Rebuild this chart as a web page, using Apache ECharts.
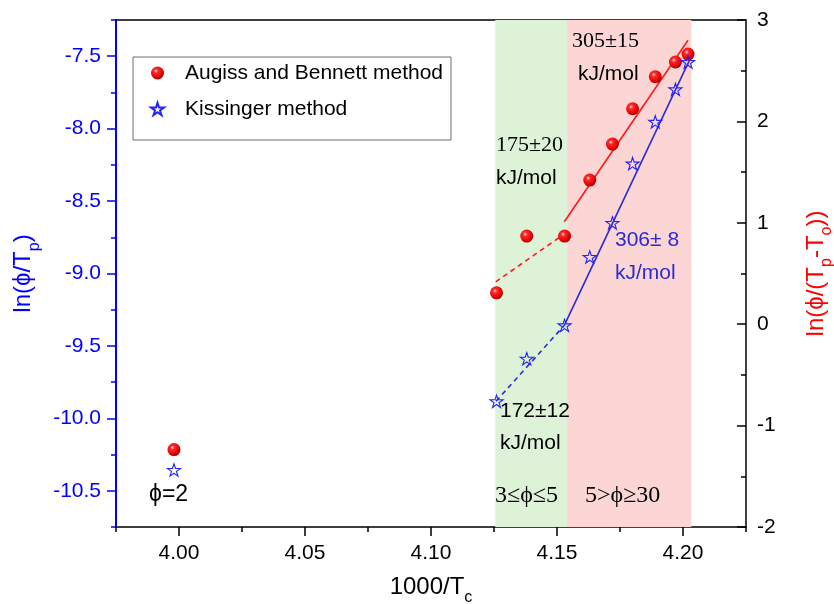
<!DOCTYPE html>
<html>
<head>
<meta charset="utf-8">
<script src="https://cdn.jsdelivr.net/npm/echarts@6/dist/echarts.min.js"></script>
<style>html,body{margin:0;padding:0;background:#fff}#c{width:834px;height:604px}</style>
</head>
<body>
<div id="c"></div>
<script>
// ---- data ----
const xVals = [3.998, 4.126, 4.138, 4.153, 4.163, 4.172, 4.180, 4.189, 4.197, 4.202];
const augissVals = [-1.236, 0.309, 0.869, 0.869, 1.421, 1.776, 2.125, 2.441, 2.586, 2.664];
const kissingerVals = [-10.356, -9.882, -9.588, -9.358, -8.886, -8.651, -8.241, -7.953, -7.729, -7.540];
// linear fits (endpoints in data units)
const augissFitLow = [[4.1257, 0.418], [4.1529, 0.89]];
const augissFitHigh = [[4.1529, 1.01], [4.2020, 2.80]];
const kissFitLow = [[4.1258, -9.882], [4.1529, -9.358]];
const kissFitHigh = [[4.1529, -9.358], [4.2029, -7.515]];
// regions
const greenBand = [4.1255, 4.154];
const pinkBand = [4.154, 4.2033];
// ticks
const xTicks = [4.00, 4.05, 4.10, 4.15, 4.20];
const xMinorTicks = [3.975, 4.025, 4.075, 4.125, 4.175, 4.225];
const leftTicks = [-10.5, -10.0, -9.5, -9.0, -8.5, -8.0, -7.5];
const leftMinorTicks = [-10.75, -10.25, -9.75, -9.25, -8.75, -8.25, -7.75, -7.25];

const SANS = 'Arial, "Liberation Sans", sans-serif';
const SERIF = '"Times New Roman", "Liberation Serif", serif';
const starPath = 'path://M50,0 L61.2,34.5 L97.6,34.5 L68.2,55.9 L79.4,90.5 L50,69.1 L20.6,90.5 L31.8,55.9 L2.4,34.5 L38.8,34.5 Z';
const sphere = {
  type: 'radial', x: 0.38, y: 0.35, r: 0.65,
  colorStops: [{offset: 0, color: '#ffe0e0'}, {offset: 0.25, color: '#ff2a2a'}, {offset: 0.8, color: '#e00000'}, {offset: 1, color: '#a00000'}]
};

const X_MIN = 3.975, X_MAX = 4.225;
const YL_MIN = -10.75, YL_MAX = -7.25;

function richName(col) {
  return {
    color: col, fontFamily: SANS, fontSize: 24,
    rich: {
      m: {fontSize: 24, fontFamily: SANS, color: col, padding: [0, 0, 7, 0], verticalAlign: 'bottom'},
      s: {fontSize: 16, fontFamily: SANS, color: col, verticalAlign: 'bottom'}
    }
  };
}

const chart = echarts.init(document.getElementById('c'), null, {renderer: 'canvas'});
const ann = (x, y, text, font, size, color) => ({
  type: 'text', left: x, top: y - size * 0.6, z: 100,
  style: {text: text, fontFamily: font, fontSize: size, fill: color || '#000'}
});

chart.setOption({
  animation: false,
  backgroundColor: '#fff',
  grid: {left: 116, right: 88, top: 20, bottom: 77, containLabel: false, outerBoundsMode: 'none'},
  legend: {
    orient: 'vertical', left: 133, top: 57,
    padding: [5, 8, 20, 17], itemGap: 14,
    itemWidth: 13, itemHeight: 13,
    borderColor: '#6e6e6e', borderWidth: 1,
    textStyle: {fontFamily: SANS, fontSize: 21, color: '#000', lineHeight: 22, padding: [0, 0, 0, 16]},
    data: ['Augiss and Bennett method', 'Kissinger method']
  },
  xAxis: [
    {
      type: 'value', min: X_MIN, max: X_MAX, position: 'bottom',
      name: '{m|1000/T}{s|c}', nameLocation: 'middle', nameGap: 48,
      nameTextStyle: richName('#000'),
      axisLine: {show: true, onZero: false, lineStyle: {color: '#000', width: 1.5}},
      axisTick: {show: true, length: 9, customValues: xTicks, lineStyle: {color: '#000', width: 1.5}},
      axisLabel: {customValues: xTicks, margin: 16, fontFamily: SANS, fontSize: 21, color: '#000',
        formatter: v => v.toFixed(2)},
      splitLine: {show: false}
    },
    {
      type: 'value', min: X_MIN, max: X_MAX, position: 'top',
      axisLine: {show: true, onZero: false, lineStyle: {color: '#000', width: 1.5}},
      axisTick: {show: false}, axisLabel: {show: false}, splitLine: {show: false}
    },
    {
      type: 'value', min: X_MIN, max: X_MAX, position: 'bottom',
      axisLine: {show: false, onZero: false},
      axisTick: {show: true, length: 5, customValues: xMinorTicks, lineStyle: {color: '#000', width: 1.5}},
      axisLabel: {show: false, customValues: xMinorTicks}, splitLine: {show: false}
    }
  ],
  yAxis: [
    {
      type: 'value', min: YL_MIN, max: YL_MAX, position: 'left',
      name: '{m|ln(ϕ/T}{s|p}{m|)}', nameLocation: 'middle', nameGap: 70, nameRotate: 90,
      nameTextStyle: richName('#0000ff'),
      axisLine: {show: true, onZero: false, lineStyle: {color: '#0000ff', width: 2}},
      axisTick: {show: true, length: 9, customValues: leftTicks, lineStyle: {color: '#0000ff', width: 1.5}},
      axisLabel: {customValues: leftTicks, margin: 15, fontFamily: SANS, fontSize: 21, color: '#0000ff',
        formatter: v => v.toFixed(1)},
      splitLine: {show: false}
    },
    {
      type: 'value', min: -2, max: 3, interval: 1, position: 'right',
      name: '{m|ln(ϕ/(T}{s|p}{m|-T}{s|o}{m|))}', nameLocation: 'middle', nameGap: 58, nameRotate: 90,
      nameTextStyle: richName('#ff0000'),
      axisLine: {show: true, onZero: false, lineStyle: {color: '#000', width: 1.5}},
      axisTick: {show: true, inside: true, length: 9, lineStyle: {color: '#000', width: 1.5}},
      minorTick: {show: true, splitNumber: 2, length: 5, lineStyle: {color: '#000', width: 1.5}},
      axisLabel: {margin: 11, fontFamily: SANS, fontSize: 21, color: '#000'},
      splitLine: {show: false}
    },
    {
      type: 'value', min: YL_MIN, max: YL_MAX, position: 'left',
      axisLine: {show: false, onZero: false},
      axisTick: {show: true, length: 5, customValues: leftMinorTicks, lineStyle: {color: '#0000ff', width: 1.5}},
      axisLabel: {show: false, customValues: leftMinorTicks}, splitLine: {show: false}
    }
  ],
  graphic: [
    ann(572, 43, '305±15', SERIF, 22),
    ann(578, 76, 'kJ/mol', SANS, 21),
    ann(496, 147, '175±20', SERIF, 22),
    ann(496, 180, 'kJ/mol', SANS, 21),
    ann(615, 242, '306± 8', SANS, 21, '#2b2bd6'),
    ann(615, 275, 'kJ/mol', SANS, 21, '#2b2bd6'),
    ann(500, 413, '172±12', SANS, 21),
    ann(500, 445, 'kJ/mol', SANS, 21),
    ann(495, 498, '3≤ϕ≤5', SERIF, 24),
    ann(585, 498, '5>ϕ≥30', SERIF, 24),
    ann(149, 497, 'ϕ=2', SANS, 23)
  ],
  series: [
    {
      name: 'bands', type: 'line', xAxisIndex: 0, yAxisIndex: 0, data: [], silent: true,
      markArea: {
        silent: true,
        data: [
          [{xAxis: greenBand[0], itemStyle: {color: 'rgb(222,242,216)'}}, {xAxis: greenBand[1]}],
          [{xAxis: pinkBand[0], itemStyle: {color: 'rgb(252,213,213)'}}, {xAxis: pinkBand[1]}]
        ]
      }
    },
    {type: 'line', xAxisIndex: 0, yAxisIndex: 1, data: augissFitLow, symbol: 'none', z: 3,
      lineStyle: {color: '#ff1a1a', width: 1.6, type: [5, 4]}},
    {type: 'line', xAxisIndex: 0, yAxisIndex: 1, data: augissFitHigh, symbol: 'none', z: 3,
      lineStyle: {color: '#ff1a1a', width: 1.6}},
    {type: 'line', xAxisIndex: 0, yAxisIndex: 0, data: kissFitLow, symbol: 'none', z: 3,
      lineStyle: {color: '#2b2bd6', width: 1.6, type: [5, 4]}},
    {type: 'line', xAxisIndex: 0, yAxisIndex: 0, data: kissFitHigh, symbol: 'none', z: 3,
      lineStyle: {color: '#2b2bd6', width: 1.6}},
    {
      name: 'Augiss and Bennett method', type: 'scatter', xAxisIndex: 0, yAxisIndex: 1, z: 5,
      data: xVals.map((x, i) => [x, augissVals[i]]),
      symbol: 'circle', symbolSize: 13,
      itemStyle: {color: sphere, opacity: 1}
    },
    {
      name: 'Kissinger method', type: 'scatter', xAxisIndex: 0, yAxisIndex: 0, z: 5,
      data: xVals.map((x, i) => [x, kissingerVals[i]]),
      symbol: starPath, symbolSize: 13, symbolKeepAspect: true,
      itemStyle: {color: 'rgba(255,255,255,0)', borderColor: '#2323ff', borderWidth: 1.1, opacity: 1}
    }
  ]
});
</script>
</body>
</html>
